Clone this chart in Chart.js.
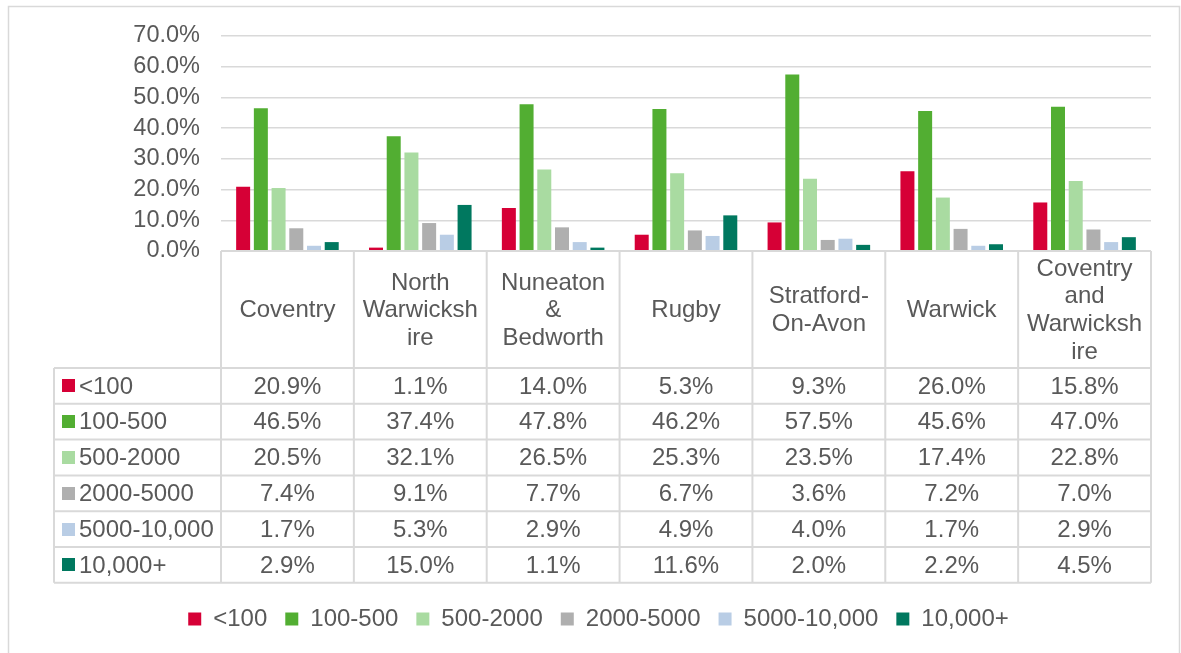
<!DOCTYPE html>
<html>
<head>
<meta charset="utf-8">
<script src="https://cdn.jsdelivr.net/npm/chart.js@4.4.1/dist/chart.umd.min.js"></script>
<style>
  body { margin: 0; background: #fff; }
  #wrap { position: relative; width: 1181px; height: 653px; }
</style>
</head>
<body>
<div id="wrap"><canvas id="chart"></canvas></div>
<script>
// areas, split into the lines used in the table header
const areas = ['Coventry', 'North Warwickshire', 'Nuneaton & Bedworth', 'Rugby', 'Stratford-On-Avon', 'Warwick', 'Coventry and Warwickshire'];
const areaLines = [
  ['Coventry'],
  ['North', 'Warwicksh', 'ire'],
  ['Nuneaton', '&', 'Bedworth'],
  ['Rugby'],
  ['Stratford-', 'On-Avon'],
  ['Warwick'],
  ['Coventry', 'and', 'Warwicksh', 'ire']
];

const bands = ['<100', '100-500', '500-2000', '2000-5000', '5000-10,000', '10,000+'];
const bandColors = ['#D60036', '#52AE32', '#A9DBA1', '#AFAFAF', '#B9CDE5', '#00785F'];

// percentages
const under100 = [20.9, 1.1, 14.0, 5.3, 9.3, 26.0, 15.8];
const from100to500 = [46.5, 37.4, 47.8, 46.2, 57.5, 45.6, 47.0];
const from500to2000 = [20.5, 32.1, 26.5, 25.3, 23.5, 17.4, 22.8];
const from2000to5000 = [7.4, 9.1, 7.7, 6.7, 3.6, 7.2, 7.0];
const from5000to10000 = [1.7, 5.3, 2.9, 4.9, 4.0, 1.7, 2.9];
const over10000 = [2.9, 15.0, 1.1, 11.6, 2.0, 2.2, 4.5];

const seriesValues = [under100, from100to500, from500to2000, from2000to5000, from5000to10000, over10000];

const yTicks = [0, 10, 20, 30, 40, 50, 60, 70];

const FONT = '"Liberation Sans", Arial, sans-serif';
const FONT_SIZE = 24;
const TEXT = '#595959';
const LINE = '#D9D9D9';

const HEADER_H = 117;
const ROW_H = 35.8;

const fmt = v => v.toFixed(1) + '%';

// outer frame + data table under the plot
const tablePlugin = {
  id: 'dataTable',
  beforeDraw(chart) {
    const ctx = chart.ctx;
    ctx.save();
    ctx.strokeStyle = LINE;
    ctx.lineWidth = 1.5;
    ctx.strokeRect(8.5, 6.5, 1171, 700);
    ctx.restore();
  },
  afterDraw(chart) {
    const ctx = chart.ctx;
    const x = chart.scales.x;
    const area = chart.chartArea;
    const colW = (area.right - area.left) / areas.length;
    const top = area.bottom;
    const headBottom = top + HEADER_H;
    const bottom = headBottom + ROW_H * bands.length;
    const tableLeft = 54;

    ctx.save();
    ctx.strokeStyle = LINE;
    ctx.lineWidth = 2;
    ctx.beginPath();
    // top of header
    ctx.moveTo(area.left, top); ctx.lineTo(area.right, top);
    // row lines
    for (let r = 0; r <= bands.length; r++) {
      const y = headBottom + r * ROW_H;
      ctx.moveTo(tableLeft, y); ctx.lineTo(area.right, y);
    }
    // column lines
    ctx.moveTo(tableLeft, headBottom); ctx.lineTo(tableLeft, bottom);
    for (let i = 0; i <= areas.length; i++) {
      const cx = area.left + i * colW;
      ctx.moveTo(cx, top); ctx.lineTo(cx, bottom);
    }
    ctx.stroke();

    ctx.font = FONT_SIZE + 'px ' + FONT;
    ctx.fillStyle = TEXT;
    ctx.textBaseline = 'middle';
    ctx.textAlign = 'center';

    // header labels
    const midHead = top + HEADER_H / 2;
    areaLines.forEach((lines, i) => {
      const cx = x.getPixelForValue(i);
      const lh = 27.6;
      const y0 = midHead - (lines.length - 1) * lh / 2 + 1;
      lines.forEach((t, k) => ctx.fillText(t, cx, y0 + k * lh));
    });

    // rows
    seriesValues.forEach((vals, r) => {
      const cy = headBottom + r * ROW_H + ROW_H / 2;
      ctx.fillStyle = bandColors[r];
      ctx.fillRect(62, Math.round(cy - 6.5), 13, 13);
      ctx.fillStyle = TEXT;
      ctx.textAlign = 'left';
      ctx.fillText(bands[r], 79, cy + 1);
      ctx.textAlign = 'center';
      vals.forEach((v, i) => ctx.fillText(fmt(v), x.getPixelForValue(i), cy + 1));
    });
    ctx.restore();
  }
};

const datasets = bands.map((b, i) => ({
  label: b,
  data: seriesValues[i],
  backgroundColor: bandColors[i],
  borderWidth: 0,
  categoryPercentage: 0.8,
  barPercentage: 0.79
}));

new Chart(document.getElementById('chart'), {
  type: 'bar',
  data: { labels: areas, datasets },
  plugins: [tablePlugin],
  options: {
    responsive: true,
    maintainAspectRatio: false,
    animation: false,
    layout: { padding: { left: 46, right: 30, top: 36, bottom: 12 } },
    plugins: {
      tooltip: { enabled: false },
      legend: {
        position: 'bottom',
        labels: {
          boxWidth: 13,
          boxHeight: 13,
          padding: 18,
          color: TEXT,
          font: { family: FONT, size: FONT_SIZE }
        }
      }
    },
    scales: {
      x: {
        grid: { display: false },
        border: { display: false },
        ticks: { display: false },
        afterFit(scale) { scale.height = 338; }
      },
      y: {
        min: 0,
        max: 70,
        afterFit(scale) { scale.width = 175; },
        afterBuildTicks(scale) { scale.ticks = yTicks.map(v => ({ value: v })); },
        grid: { color: LINE, lineWidth: 1.5, drawTicks: false },
        border: { display: false },
        ticks: {
          autoSkip: false,
          padding: 21,
          color: TEXT,
          font: { family: FONT, size: 23.5 },
          callback: v => fmt(v)
        }
      }
    }
  }
});
</script>
</body>
</html>
